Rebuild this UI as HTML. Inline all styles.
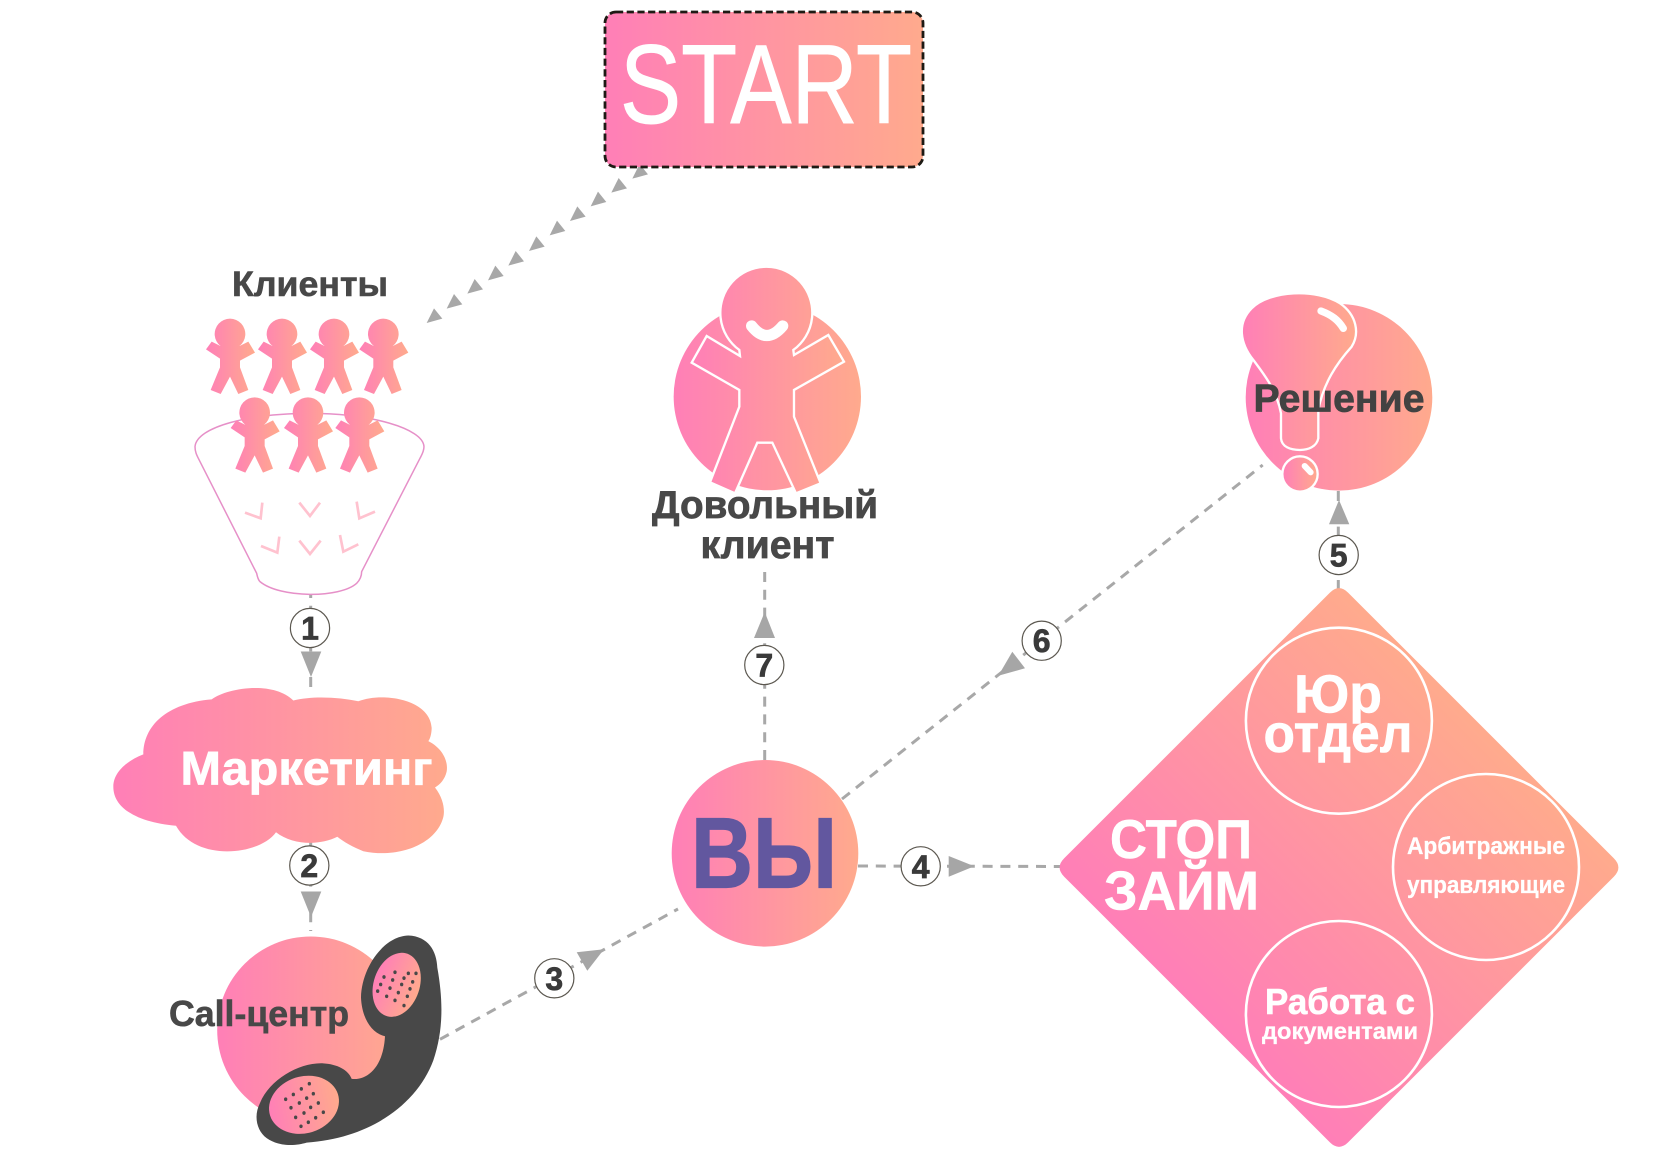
<!DOCTYPE html>
<html>
<head>
<meta charset="utf-8">
<style>
html,body{margin:0;padding:0;background:#fff;}
svg{display:block;filter:blur(.3px);}
text{font-family:"Liberation Sans","DejaVu Sans",sans-serif;font-weight:bold;}
</style>
</head>
<body>
<svg width="1680" height="1175" viewBox="0 0 1680 1175" xmlns="http://www.w3.org/2000/svg">
<defs>
<linearGradient id="g"><stop offset="0" stop-color="#ff7fb7"/><stop offset="1" stop-color="#ffaa8d"/></linearGradient>
<linearGradient id="gd" gradientUnits="userSpaceOnUse" x1="1200" y1="1007" x2="1478" y2="728"><stop offset="0" stop-color="#ff7fb7"/><stop offset="1" stop-color="#ffaa8d"/></linearGradient>
<path id="p" fill="url(#g)" d="M-28,36.5 A46,46 0 1 1 28,36.5 L55,23 L75,56 L30,80 L30,100 L55,168 L25,180 L0,128 L-28,180 L-58,168 L-30,100 L-30,74 L-72,46 L-55,23 Z"/>
<path id="t" fill="#a8a8a8" d="M-23,21 L-1,-23 L24,8 Z"/>
</defs>
<rect width="1680" height="1175" fill="#fff"/>

<!-- connectors -->
<g stroke="#a8a8a8" stroke-width="3" fill="none" stroke-dasharray="10 7.8">
<line x1="310.7" y1="588" x2="310.7" y2="694"/>
<line x1="310.7" y1="841" x2="310.7" y2="931"/>
<line x1="440" y1="1039.3" x2="678" y2="909"/>
<line x1="858" y1="866" x2="1062" y2="866.5"/>
<line x1="1338.3" y1="590" x2="1338.3" y2="490"/>
<line x1="842" y1="799" x2="1262.7" y2="465"/>
<line x1="764.7" y1="760" x2="764.7" y2="566"/>
</g>

<!-- START arrows -->
<g transform="translate(420,150) scale(.3333)">
<use href="#t" x="660" y="65"/><use href="#t" x="597" y="107"/><use href="#t" x="535" y="148"/><use href="#t" x="473" y="192"/><use href="#t" x="412" y="235"/><use href="#t" x="350" y="282"/><use href="#t" x="288" y="326"/><use href="#t" x="227" y="370"/><use href="#t" x="165" y="410"/><use href="#t" x="103" y="455"/><use href="#t" x="43" y="498"/>
</g>

<!-- START -->
<rect x="605" y="12" width="318" height="155" rx="11" fill="url(#g)" stroke="#1e1a14" stroke-width="2.8" stroke-dasharray="7.2 3.5"/>
<text x="620" y="123" font-size="112" fill="#fff" stroke="#fff" stroke-width=".9" style="font-weight:normal" textLength="292" lengthAdjust="spacingAndGlyphs">START</text>

<!-- Клиенты -->
<text x="232" y="296" font-size="35" fill="#484848" stroke="#484848" stroke-width=".6" textLength="156" lengthAdjust="spacingAndGlyphs">Клиенты</text>
<g transform="translate(180,260) scale(.3333)">
<path d="M45,560 C50,500 210,460 390,460 C570,460 730,505 732,560 C732,575 725,585 720,595 L545,935 C545,955 535,965 530,970 C480,1015 300,1015 240,965 C235,960 232,950 230,940 L55,595 C50,585 45,575 45,560 Z" fill="#fff" stroke="#e690c8" stroke-width="4.5"/>
<g fill="none" stroke="#ffc2cf" stroke-width="8">
<polyline points="195,758 242,775 247,728"/>
<polyline points="358,728 390,768 420,728"/>
<polyline points="530,725 538,775 585,755"/>
<polyline points="243,858 292,878 298,830"/>
<polyline points="358,842 390,882 422,842"/>
<polyline points="480,825 490,875 535,853"/>
</g>
<use href="#p" x="150" y="222"/><use href="#p" x="306" y="222"/><use href="#p" x="462" y="222"/><use href="#p" x="610" y="222"/>
<use href="#p" x="224" y="458"/><use href="#p" x="384" y="458"/><use href="#p" x="538" y="458"/>
</g>

<!-- Довольный клиент -->
<g transform="translate(640,250) scale(.3333)">
<circle cx="382" cy="440" r="281" fill="url(#g)"/>
<path d="M298,300 A138,138 0 1 1 460,300 L462,315 L565,255 L612,335 L462,420 L462,500 L542,700 L468,730 L397,578 L352,578 L285,730 L210,697 L298,470 L298,420 L155,338 L200,258 L300,318 Z" fill="url(#g)" stroke="#fff" stroke-width="7"/>
<path d="M335,228 Q380,285 428,228" fill="none" stroke="#fff" stroke-width="34" stroke-linecap="round"/>
</g>
<text x="652" y="518" font-size="38.5" fill="#484848" stroke="#484848" stroke-width=".7" textLength="226" lengthAdjust="spacingAndGlyphs">Довольный</text>
<text x="700.5" y="558" font-size="38.5" fill="#484848" stroke="#484848" stroke-width=".7" textLength="134" lengthAdjust="spacingAndGlyphs">клиент</text>

<!-- Решение -->
<circle cx="1339" cy="397.3" r="93.3" fill="url(#g)"/>
<g transform="translate(1220,280) scale(.3333)">
<path d="M100,240 C60,190 50,130 95,85 C150,30 290,25 360,70 C410,105 420,160 395,200 C350,250 310,310 295,390 L295,475 C290,500 265,510 240,510 C210,510 185,500 183,475 L183,400 C170,330 130,280 100,240 Z" fill="url(#g)" stroke="#fff" stroke-width="7"/>
<path d="M303,93 C335,105 355,120 370,145" fill="none" stroke="#fff" stroke-width="22" stroke-linecap="round"/>
<circle cx="240" cy="582" r="53" fill="url(#g)" stroke="#fff" stroke-width="7"/>
<path d="M254,558 L272,577" fill="none" stroke="#fff" stroke-width="18" stroke-linecap="round"/>
</g>
<text x="1253.5" y="411.7" font-size="38.5" fill="#424242" stroke="#424242" stroke-width=".7" textLength="171" lengthAdjust="spacingAndGlyphs">Решение</text>

<!-- Маркетинг + Call-центр -->
<g transform="translate(100,585.5) scale(.33333,.3796)">
<path fill="url(#g)" d="M130,445 C130,370 200,310 335,300 C380,270 520,250 580,303 C640,290 720,295 775,305 C850,280 990,300 995,375 C995,390 990,405 985,410 C1030,430 1045,465 1040,490 C1035,510 1020,525 1005,532 C1030,560 1035,590 1030,610 C1010,680 900,720 790,700 C760,690 730,675 712,662 C660,685 580,685 528,650 C480,710 290,730 228,633 C120,625 40,590 40,530 C40,490 85,460 130,445 Z"/>
</g>
<text x="180.5" y="784.4" font-size="47" fill="#fff" stroke="#fff" stroke-width=".7" textLength="252" lengthAdjust="spacingAndGlyphs">Маркетинг</text>

<circle cx="310.7" cy="1030" r="93.5" fill="url(#g)"/>
<g transform="translate(100,590) scale(.33333,.37037)">
<path fill="#484848" d="M925,933 C985,935 1010,975 1012,1020 C1030,1110 1030,1190 1000,1270 C950,1390 810,1480 620,1492 C590,1500 540,1505 500,1480 C470,1460 460,1420 480,1385 C510,1320 600,1275 670,1278 C710,1280 745,1295 755,1320 C800,1325 850,1290 855,1205 C810,1195 785,1150 783,1100 C785,1020 850,935 925,933 Z"/>
<ellipse cx="890" cy="1066" rx="68" ry="90" transform="rotate(25 890 1066)" fill="url(#g)"/>
<ellipse cx="612" cy="1390" rx="106" ry="77" transform="rotate(-12 612 1390)" fill="url(#g)"/>
<g fill="#484848">
<circle cx="852" cy="1045" r="5"/><circle cx="885" cy="1032" r="5"/><circle cx="925" cy="1035" r="5"/><circle cx="948" cy="1035" r="5"/><circle cx="878" cy="1053" r="5"/><circle cx="912" cy="1048" r="5"/><circle cx="938" cy="1058" r="5"/><circle cx="842" cy="1065" r="5"/><circle cx="870" cy="1075" r="5"/><circle cx="905" cy="1065" r="5"/><circle cx="930" cy="1077" r="5"/><circle cx="833" cy="1083" r="5"/><circle cx="895" cy="1087" r="5"/><circle cx="860" cy="1097" r="5"/><circle cx="922" cy="1097" r="5"/><circle cx="885" cy="1108" r="5"/><circle cx="912" cy="1122" r="5"/>
<circle cx="628" cy="1333" r="5"/><circle cx="604" cy="1347" r="5"/><circle cx="580" cy="1362" r="5"/><circle cx="640" cy="1360" r="5"/><circle cx="620" cy="1372" r="5"/><circle cx="557" cy="1375" r="5"/><circle cx="598" cy="1385" r="5"/><circle cx="655" cy="1385" r="5"/><circle cx="573" cy="1398" r="5"/><circle cx="632" cy="1397" r="5"/><circle cx="612" cy="1412" r="5"/><circle cx="670" cy="1410" r="5"/><circle cx="587" cy="1424" r="5"/><circle cx="647" cy="1425" r="5"/><circle cx="625" cy="1437" r="5"/><circle cx="603" cy="1448" r="5"/>
</g>
</g>
<text x="169" y="1026" font-size="36" fill="#484848" stroke="#484848" stroke-width=".6" textLength="180" lengthAdjust="spacingAndGlyphs">Call-центр</text>

<!-- ВЫ -->
<circle cx="765" cy="853.3" r="93.3" fill="url(#g)"/>
<text x="691" y="887.3" font-size="100" fill="#62579f" stroke="#62579f" stroke-width="1.2" textLength="146" lengthAdjust="spacingAndGlyphs">ВЫ</text>

<!-- Diamond -->
<path d="M1329.8,592.7 Q1339,583.5 1348.2,592.7 L1613.8,858.3 Q1623,867.5 1613.8,876.7 L1348.2,1142.3 Q1339,1151.5 1329.8,1142.3 L1064.2,876.7 Q1055,867.5 1064.2,858.3 Z" fill="url(#gd)"/>
<g fill="none" stroke="#fff" stroke-width="2.6">
<circle cx="1338.9" cy="720.7" r="93"/>
<circle cx="1486" cy="867" r="93"/>
<circle cx="1338.9" cy="1014" r="93"/>
</g>
<g fill="#fff" stroke="#fff" stroke-width=".6">
<text x="1110" y="857.8" font-size="55" textLength="142" lengthAdjust="spacingAndGlyphs">СТОП</text>
<text x="1104" y="909.6" font-size="55" textLength="155" lengthAdjust="spacingAndGlyphs">ЗАЙМ</text>
<text x="1294" y="712.6" font-size="54" textLength="88" lengthAdjust="spacingAndGlyphs">Юр</text>
<text x="1263.5" y="752" font-size="54" textLength="149" lengthAdjust="spacingAndGlyphs">отдел</text>
<text x="1407" y="854" font-size="24" stroke-width=".3" textLength="158" lengthAdjust="spacingAndGlyphs">Арбитражные</text>
<text x="1407" y="893" font-size="24" stroke-width=".3" textLength="158" lengthAdjust="spacingAndGlyphs">управляющие</text>
<text x="1265" y="1014" font-size="36" textLength="150" lengthAdjust="spacingAndGlyphs">Работа с</text>
<text x="1262" y="1039" font-size="23" stroke-width=".3" textLength="156" lengthAdjust="spacingAndGlyphs">документами</text>
</g>

<!-- arrowheads -->
<g fill="#a6a6a6">
<polygon points="300.7,651.5 321.3,651.5 311,677"/>
<polygon points="300.7,891.5 321.3,891.5 311,917"/>
<polygon points="576.7,952.3 604,949.3 587.3,970.7"/>
<polygon points="948.7,856 948.7,876.7 974.3,866.3"/>
<polygon points="1339,500 1329,524.3 1349.3,524.3"/>
<polygon points="998.3,675.7 1012.3,651.7 1025,668.3"/>
<polygon points="764.7,612 754,638 775,638"/>
</g>

<!-- number badges -->
<g fill="#fff" stroke="#5c5850" stroke-width="1.2">
<circle cx="310" cy="628" r="19.6"/>
<circle cx="309.3" cy="865.5" r="19.6"/>
<circle cx="554.3" cy="978.3" r="19.6"/>
<circle cx="920.7" cy="866.3" r="19.6"/>
<circle cx="1338.7" cy="555" r="19.6"/>
<circle cx="1041.7" cy="640.7" r="19.6"/>
<circle cx="764.3" cy="665" r="19.6"/>
</g>
<g fill="#3a3a3a" stroke="#3a3a3a" stroke-width=".7" font-size="32" text-anchor="middle">
<text x="310" y="639.5">1</text>
<text x="309.3" y="877">2</text>
<text x="554.3" y="990">3</text>
<text x="920.7" y="878">4</text>
<text x="1338.7" y="566.5">5</text>
<text x="1041.7" y="652">6</text>
<text x="764.3" y="676.5">7</text>
</g>
</svg>
</body>
</html>
